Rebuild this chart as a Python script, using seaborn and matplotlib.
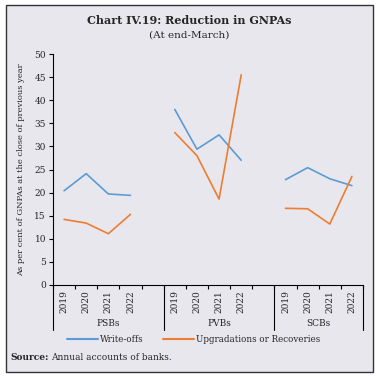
import matplotlib
matplotlib.use("Agg")
import matplotlib.pyplot as plt
from matplotlib.patches import Rectangle
import seaborn as sns
import pandas as pd

groups = ["PSBs", "PVBs", "SCBs"]
years = ["2019", "2020", "2021", "2022"]
series = ["Write-offs", "Upgradations or Recoveries"]
write_offs = {
    "PSBs": [20.4, 24.1, 19.7, 19.4],
    "PVBs": [38.0, 29.4, 32.5, 27.0],
    "SCBs": [22.8, 25.4, 23.0, 21.5],
}
upgradations = {
    "PSBs": [14.2, 13.4, 11.1, 15.3],
    "PVBs": [33.0, 28.0, 18.6, 45.5],
    "SCBs": [16.6, 16.5, 13.2, 23.5],
}
colors = ["#5B9BD5", "#ED7D31"]

BG = "#E9E7EE"
FONT = "DejaVu Serif"

rows = []
slot_pos = {}
pos = 0
for gi, g in enumerate(groups):
    for yi, y in enumerate(years):
        slot_pos[(g, y)] = pos + 0.5
        rows.append(dict(x=pos + 0.5, value=write_offs[g][yi], series=series[0], group=g))
        rows.append(dict(x=pos + 0.5, value=upgradations[g][yi], series=series[1], group=g))
        pos += 1
    if gi < len(groups) - 1:
        pos += 1
n_slots = pos
df = pd.DataFrame(rows)

sns.set_theme(style="ticks")
plt.rcParams["font.family"] = [FONT, "DejaVu Sans"]

fig = plt.figure(figsize=(3.78, 3.77), dpi=100)
fig.patch.set_facecolor("white")
fig.patches.append(Rectangle((6 / 378, 5 / 377), 367 / 378, 367 / 377,
                             transform=fig.transFigure, facecolor=BG,
                             edgecolor="#333333", linewidth=1.0, zorder=-10))

ax = fig.add_axes([53 / 378, (377 - 285) / 377, 310 / 378, 231 / 377])
ax.set_facecolor("none")

sns.lineplot(data=df, x="x", y="value", hue="series", units="group",
             estimator=None, palette=colors, hue_order=series,
             linewidth=1.2, ax=ax, legend=False)

ax.set_xlim(0, n_slots)
ax.set_ylim(0, 50)
ax.set_yticks(range(0, 51, 5))
ax.tick_params(axis="y", labelsize=6.5, length=3, width=0.8, pad=2, color="black")

# x ticks
centers = [slot_pos[(g, y)] for g in groups for y in years]
ax.set_xticks(centers)
ax.set_xticklabels([y for g in groups for y in years], rotation=90, fontsize=6.5)
ax.tick_params(axis="x", which="major", length=0, pad=4)
ax.set_xticks(list(range(0, n_slots + 1)), minor=True)
ax.tick_params(axis="x", which="minor", length=3, width=0.8, color="black")

ax.set_xlabel("")
ax.set_ylabel("As per cent of GNPAs at the close of previous year", fontsize=6.0, labelpad=7)

for s in ["top", "right"]:
    ax.spines[s].set_visible(False)
for s in ["left", "bottom"]:
    ax.spines[s].set_linewidth(0.8)
    ax.spines[s].set_color("black")

# group separators and labels
sep_x = [0]
for g in groups:
    last = slot_pos[(g, years[-1])] + 0.5
    first = slot_pos[(g, years[0])] - 0.5
    ax.text((first + last) / 2 + (0.5 if g != groups[-1] else 0), -0.165, g,
            transform=ax.get_xaxis_transform(), ha="center", va="center", fontsize=6.5)
for gi, g in enumerate(groups):
    if gi < len(groups) - 1:
        sep_x.append(slot_pos[(g, years[-1])] + 1.5)
sep_x.append(n_slots)
for sx in sep_x:
    ax.plot([sx, sx], [0, -0.195], transform=ax.get_xaxis_transform(),
            color="black", linewidth=0.8, clip_on=False)

handles = [plt.Line2D([], [], color=c, linewidth=1.5) for c in colors]
fig.legend(handles, series, loc="center", bbox_to_anchor=(0.512, (377 - 340) / 377),
           ncol=2, frameon=False, fontsize=6.3, handlelength=3.6, columnspacing=2.2,
           handletextpad=0.2)

fig.text(0.5, (377 - 20) / 377, "Chart IV.19: Reduction in GNPAs", ha="center",
         va="center", fontsize=8, fontweight="bold")
fig.text(0.5, (377 - 35) / 377, "(At end-March)", ha="center", va="center", fontsize=7.5)

src = fig.text(10 / 378, (377 - 357) / 377, "Source:", ha="left", va="center",
               fontsize=6.5, fontweight="bold")
fig.canvas.draw()
bb = src.get_window_extent(renderer=fig.canvas.get_renderer())
fig.text((bb.x1 + 3) / 378, (377 - 357) / 377, "Annual accounts of banks.", ha="left",
         va="center", fontsize=6.5)

fig.savefig("out.png", dpi=100)
